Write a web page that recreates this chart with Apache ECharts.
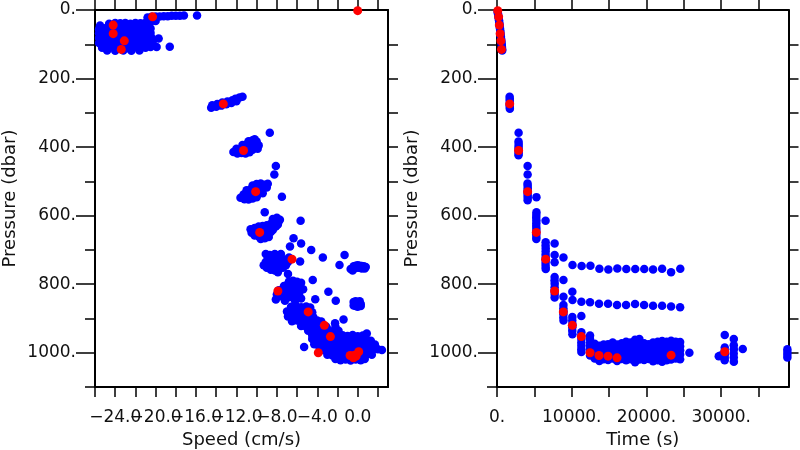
<!DOCTYPE html>
<html><head><meta charset="utf-8">
<script src="https://cdn.jsdelivr.net/npm/echarts@6/dist/echarts.min.js"></script>
<style>html,body{margin:0;padding:0;background:#fff}#c{width:800px;height:450px}</style>
</head><body><div id="c"></div>
<script>
// ---------- tick / label values ----------
const pressureMajor = [0, 200, 400, 600, 800, 1000];
const pressureMinor = [100, 300, 500, 700, 900, 1100];
const pressureAll = [100, 200, 300, 400, 500, 600, 700, 800, 900, 1000];
const speedTicks = [-26, -24, -22, -20, -18, -16, -14, -12, -10, -8, -6, -4, -2, 0, 2];
const speedLabelsA = [-24, -16, -8, 0];
const speedLabelsB = [-20, -12, -4];
const timeTicks = [0, 5000, 10000, 15000, 20000, 25000, 30000, 35000];
const timeLabels = [0, 10000, 20000, 30000];

// ---------- red (highlighted) samples ----------
const redPressure = [2, 20, 44, 69, 90, 115, 274, 410, 530, 649, 727, 820, 881, 920, 953, 1000, 1008, 1010, 1015, 1007, 997];
const redSpeed = [0.0, -20.3, -24.2, -24.2, -23.1, -23.4, -13.3, -11.3, -10.1, -9.7, -6.5, -7.9, -4.9, -3.3, -2.7, -3.9, -0.75, -0.16, -0.42, -0.3, 0.1];
const redTime = [100, 215, 310, 420, 520, 600, 1700, 2890, 4100, 5260, 6510, 7710, 8875, 10080, 11285, 12450, 13650, 14860, 16060, 23290, 30470];

// ---------- blue samples: speed vs pressure ----------
const speedSurface = [
 [-20.8,22],[-20.4,20],[-20.0,19],[-19.6,19],[-19.2,18],[-18.8,18],[-18.4,17],[-18.0,17],[-17.6,17],[-17.2,16],[-15.9,16],
 [-25.5,45],[-24.6,40],[-24.0,38],[-23.5,39],[-23.0,38],[-22.5,40],[-22.0,38],[-21.5,39],[-21.0,37],[-20.5,35],[-20.0,32],
 [-25.6,56],[-25.1,53],[-24.6,54],[-24.0,52],[-23.5,55],[-23.0,53],[-22.5,54],[-22.0,52],[-21.5,55],[-21.0,53],[-20.5,54],
 [-25.6,68],[-25.2,70],[-24.6,67],[-24.1,69],[-23.5,68],[-23.0,70],[-22.4,67],[-21.9,69],[-21.4,68],[-20.9,70],[-20.5,67],
 [-25.6,82],[-25.2,84],[-24.7,81],[-24.1,83],[-23.6,82],[-23.0,84],[-22.5,81],[-22.0,83],[-21.4,82],[-20.9,84],[-20.4,81],[-19.7,83],
 [-25.6,96],[-25.1,98],[-24.6,95],[-24.0,97],[-23.5,96],[-22.9,98],[-22.4,95],[-21.9,97],[-21.3,96],[-20.8,98],[-20.3,95],
 [-25.3,110],[-24.8,112],[-24.2,109],[-23.7,111],[-23.1,110],[-22.6,112],[-22.0,109],[-21.5,111],[-21.0,110],[-20.5,108],[-19.9,108],[-18.6,107],
 [-24.8,118],[-24.0,119],[-23.2,118],[-22.4,119],[-21.6,118]
];
const speedUpper = [
 [-14.5,285],[-14.4,278],[-14.0,282],[-13.9,274],[-13.5,279],[-13.4,270],[-13.0,275],[-12.9,267],[-12.5,271],[-12.4,263],[-12.0,266],[-12.1,259],[-11.7,255],[-11.4,253],
 [-12.3,414],[-11.9,419],[-11.5,417],[-11.1,419],[-10.7,415],[-12.0,405],[-11.6,407],[-11.2,402],[-10.8,405],[-10.4,408],[-11.4,394],[-11.0,392],[-10.6,394],[-10.2,397],[-10.8,383],[-10.4,380],[-10.0,384],[-9.8,395],[-10.2,377],[-9.9,405],[-8.7,358],
 [-11.6,548],[-11.2,552],[-10.8,553],[-10.4,550],[-10.0,546],[-11.3,538],[-10.9,540],[-10.5,536],[-10.1,533],[-9.7,530],[-11.0,526],[-10.6,524],[-10.2,522],[-9.8,519],[-9.4,522],[-10.4,512],[-10.0,508],[-9.6,506],[-9.2,510],[-9.0,518],[-8.9,507],[-9.4,535],
 [-8.1,455],[-8.25,480],[-7.5,545],[-9.2,590]
];
const speedMid = [
 [-10.6,640],[-10.2,636],[-9.8,632],[-9.4,630],[-9.0,628],[-8.6,624],[-8.2,620],[-7.8,616],[-8.4,610],[-8.0,606],[-7.7,612],[-10.5,650],[-10.1,648],[-9.3,645],[-8.9,640],[-8.5,636],[-8.1,632],[-7.9,626],[-10.2,658],[-9.8,660],[-9.4,655],[-9.0,652],[-8.6,648],[-9.6,668],[-9.2,666],[-8.8,662],[-10.0,642],[-8.4,642],
 [-5.65,615],[-6.35,666],[-6.7,690],[-5.6,681],[-4.6,700],[-3.45,722],[-1.3,715],[-1.8,744],[-5.7,734],
 [-9.3,745],[-9.0,752],[-8.6,758],[-8.2,760],[-7.8,756],[-7.4,752],[-9.1,735],[-8.7,740],[-8.3,745],[-7.9,742],[-7.5,738],[-7.1,745],[-8.9,722],[-8.5,726],[-8.1,728],[-7.7,724],[-7.3,728],[-8.7,715],[-8.2,712],[-7.6,712],[-9.1,712],[-6.9,770],[-7.9,765],[-6.9,735],[-6.8,722],
 [-0.7,756],[-0.4,748],[-0.2,746],[0.0,745],[0.2,746],[0.4,747],[0.6,748],[0.7,754],[-0.5,760],[-0.2,753],[0.1,752],[0.4,754],[0.8,750],
 [-6.8,792],[-6.4,790],[-6.0,793],[-5.6,796],[-7.3,805],[-6.9,800],[-6.5,803],[-6.1,806],[-5.7,810],[-5.4,815],[-7.8,818],[-7.4,815],[-7.0,820],[-6.6,822],[-6.2,825],[-5.8,828],[-8.0,830],[-7.6,835],[-7.2,838],[-6.8,838],[-6.4,836],[-6.0,840],[-5.6,842],[-8.1,845],[-7.2,848],[-6.2,848],
 [-4.45,788],[-2.9,822],[-2.17,848],[-4.2,844],
 [-0.4,852],[-0.2,850],[0.0,853],[0.2,855],[0.3,858],[-0.3,858],[-0.1,860],[0.1,862],[0.3,864],[-0.2,864],[0.0,866],[0.2,850],[-0.4,862]
];
const speedDeep = [
 [-6.6,866],[-6.1,864],[-5.6,867],[-5.1,865],[-4.7,868],
 [-7.0,880],[-6.5,882],[-6.0,879],[-5.5,881],[-5.0,878],[-4.5,882],
 [-6.9,894],[-6.4,896],[-5.9,893],[-5.4,895],[-4.9,892],[-4.4,896],
 [-6.5,908],[-6.0,906],[-5.5,909],[-5.0,907],[-4.5,910],[-4.0,906],[-3.6,909],
 [-5.6,922],[-5.1,924],[-4.6,921],[-4.1,923],[-3.6,920],[-3.1,924],
 [-4.9,936],[-4.4,938],[-3.9,935],[-3.4,937],[-2.9,934],[-2.4,938],[-1.9,936],
 [-4.5,950],[-4.0,952],[-3.5,949],[-3.0,951],[-2.5,948],[-2.0,952],[-1.5,949],[-1.0,951],[-0.5,948],[0.0,952],[0.5,950],[0.9,944],
 [-4.5,960],[-4.2,964],[-3.7,966],[-3.2,963],[-2.7,965],[-2.2,962],[-1.7,966],[-1.2,963],[-0.7,965],[-0.2,962],[0.3,966],[0.8,963],[1.3,965],
 [-4.3,975],[-3.9,978],[-3.4,980],[-2.9,977],[-2.4,979],[-1.9,976],[-1.4,980],[-0.9,977],[-0.4,979],[0.1,976],[0.6,980],[1.1,977],[1.7,976],
 [-3.5,992],[-3.0,994],[-2.5,991],[-2.0,993],[-1.5,990],[-1.0,994],[-0.5,991],[0.0,993],[0.5,990],[1.0,994],[1.5,991],[2.0,990],[2.4,992],
 [-3.0,1006],[-2.5,1008],[-2.0,1005],[-1.5,1007],[-1.0,1004],[-0.5,1008],[0.0,1005],[0.5,1007],[1.0,1004],[1.4,1006],
 [-2.2,1018],[-1.7,1022],[-1.2,1020],[-0.7,1023],[-0.2,1020],[0.3,1022],[0.7,1018],
 [-5.3,983],[-1.4,903],[-2.24,914],[-2.2,925]
];

// ---------- blue samples: time vs pressure ----------
const timeSurface = [
 [80,6],[140,12],[190,18],[230,24],[270,30],[300,36],[340,42],[370,48],[400,54],[430,60],[460,66],[490,72],[520,78],[550,84],[580,90],[610,96],[640,102],[660,108],[690,114],[700,118],
 [1690,253],[1710,259],[1700,265],[1720,271],[1700,277],[1710,283],[1720,288],
 [2890,358],[2880,384],[2900,391],[2890,398],[2880,405],[2900,412],[2890,419],[2880,424],
 [4100,455],[4100,480],[4090,506],[4100,513],[4110,520],[4100,527],[4090,534],[4100,541],[4110,548],[4100,555],
 [5280,546],[5280,590]
];
const timeMid = [
 [5260,598],[5250,606],[5270,614],[5260,622],[5250,630],[5270,638],[5260,646],[5250,654],[5270,662],[5260,668],
 [6500,615],
 [6510,678],[6500,687],[6520,696],[6510,705],[6500,714],[6520,723],[6510,732],[6500,741],[6510,750],[6520,756],
 [7710,681],[7710,715],[7710,736],
 [7710,779],[7700,789],[7720,799],[7710,809],[7700,819],[7720,829],[7710,839],
 [8890,722],[8890,788],[8890,837],
 [8890,861],[8880,870],[8900,879],[8890,888],[8880,897],[8900,906],
 [10080,822],
 [10080,896],[10070,906],[10090,916],[10080,926],[10070,936],[10090,946],
 [11285,893],
 [11285,940],[11280,950],[11290,960],[11280,970],[11290,980],[11280,990],[11290,998],
 [12450,950],[12440,960],[12460,970],[12450,980],[12440,990],[12460,1000],[12450,1008],
 [10100,744],[11320,747],[12500,746],[13700,755],[14900,757],[16100,754],[17300,756],[18500,756],[19700,756],[20880,757],[22090,755],[23290,765],[24520,755],
 [10100,846],[11290,851],[12450,853],[13650,857],[14860,857],[16060,861],[17270,861],[18470,858],[19680,861],[20880,863],[22090,863],[23290,865],[24500,867]
];
const timeDeep = [
 [13070,974],[13070,985],[13070,996],[13070,1007],[13070,1017],
 [13700,980],[13700,991],[13700,1002],[13700,1013],[13700,1024],
 [14270,976],[14270,987],[14270,998],[14270,1009],[14270,1019],
 [14860,975],[14860,986],[14860,998],[14860,1010],[14860,1021],
 [15480,970],[15480,982],[15480,994],[15480,1006],[15480,1017],
 [16060,976],[16060,988],[16060,1000],[16060,1012],[16060,1024],
 [16690,972],[16690,984],[16690,996],[16690,1007],[16690,1018],
 [17270,968],[17270,980],[17270,992],[17270,1004],[17270,1016],[17270,1022],
 [17850,970],[17850,982],[17850,994],[17850,1006],[17850,1019],
 [18470,962],[18470,974],[18470,986],[18470,998],[18470,1010],[18470,1022],[18470,1028],
 [19050,960],[19050,972],[19050,984],[19050,996],[19050,1008],[19050,1020],
 [19680,972],[19680,984],[19680,996],[19680,1008],[19680,1021],
 [20300,975],[20300,986],[20300,997],[20300,1008],[20300,1018],
 [20880,970],[20880,982],[20880,994],[20880,1006],[20880,1018],[20880,1025],
 [21500,968],[21500,980],[21500,992],[21500,1004],[21500,1016],[21500,1022],
 [22090,966],[22090,978],[22090,990],[22090,1002],[22090,1014],[22090,1026],
 [22700,968],[22700,980],[22700,992],[22700,1004],[22700,1016],[22700,1022],
 [23290,965],[23290,977],[23290,989],[23290,1001],[23290,1013],[23290,1020],
 [23910,968],[23910,980],[23910,992],[23910,1004],[23910,1017],
 [24500,969],[24500,981],[24500,993],[24500,1005],[24500,1019],
 [25740,1000],
 [30470,948],[30470,985],[30460,995],[30480,1005],[30470,1015],[30460,1022],[29670,1010],[29900,1008],
 [31680,960],[31680,978],[31690,990],[31670,1002],[31680,1014],[31690,1026],[32880,989],
 [38850,990],[38850,998],[38850,1006],[38850,1014]
];

// ---------- build chart ----------
const FONT = 'DejaVu Sans';
const BLACK = '#000';
const zip = (a, b) => a.map((v, i) => [v, b[i]]);
const minus = v => v === 0 ? '0.0' : (v < 0 ? '\u2212' : '') + Math.abs(v).toFixed(1);
const labelStyle = { margin: 22, hideOverlap: false, showMinLabel: true, showMaxLabel: true,
  fontFamily: FONT, fontSize: 17, color: '#111' };

function xAxesFor(grid, min, max, ticks, labelSets, fmt, name) {
  const line = { show: true, onZero: false, lineStyle: { color: BLACK, width: 2 } };
  const axes = [
    { gridIndex: grid, type: 'value', min, max, position: 'bottom',
      name, nameLocation: 'middle', nameGap: 42,
      nameTextStyle: { fontFamily: FONT, fontSize: 18, color: '#111' },
      axisLine: line,
      axisTick: { show: true, inside: false, length: 10, customValues: ticks, lineStyle: { color: BLACK, width: 1.5 } },
      axisLabel: Object.assign({ show: true, customValues: labelSets[0], formatter: fmt }, labelStyle),
      splitLine: { show: false } },
    { gridIndex: grid, type: 'value', min, max, position: 'top',
      axisLine: line,
      axisTick: { show: true, inside: false, length: 10, customValues: ticks, lineStyle: { color: BLACK, width: 1.5 } },
      axisLabel: { show: false }, splitLine: { show: false } }
  ];
  for (let k = 1; k < labelSets.length; k++) {
    axes.push({ gridIndex: grid, type: 'value', min, max, position: 'bottom',
      axisLine: { show: false, onZero: false }, axisTick: { show: false },
      axisLabel: Object.assign({ show: true, customValues: labelSets[k], formatter: fmt }, labelStyle),
      splitLine: { show: false } });
  }
  return axes;
}
function yTriple(grid) {
  const base = { gridIndex: grid, type: 'value', inverse: true, min: 0, max: 1100, splitLine: { show: false } };
  const line = { show: true, onZero: false, lineStyle: { color: BLACK, width: 2 } };
  return [
    Object.assign({}, base, { position: 'left',
      name: 'Pressure (dbar)', nameLocation: 'middle', nameGap: 76, nameRotate: 90,
      nameTextStyle: { fontFamily: FONT, fontSize: 18, color: '#111' },
      axisLine: line,
      axisTick: { show: true, inside: false, length: 19, customValues: pressureMajor, lineStyle: { color: BLACK, width: 1.5 } },
      axisLabel: Object.assign({ show: true, customValues: pressureMajor, formatter: v => v + '.' }, labelStyle, { margin: 19 }) }),
    Object.assign({}, base, { position: 'left',
      axisLine: { show: false, onZero: false },
      axisTick: { show: true, inside: false, length: 10, customValues: pressureMinor, lineStyle: { color: BLACK, width: 1.5 } },
      axisLabel: { show: false } }),
    Object.assign({}, base, { position: 'right',
      axisLine: line,
      axisTick: { show: true, inside: false, length: 10, customValues: pressureAll, lineStyle: { color: BLACK, width: 1.5 } },
      axisLabel: { show: false } })
  ];
}

// x axes: 0 = speed bottom, 1 = speed top, 2 = speed extra labels, 3 = time bottom, 4 = time top
const xAxes = [].concat(
  xAxesFor(0, -26, 3, speedTicks, [speedLabelsA, speedLabelsB], minus, 'Speed (cm/s)'),
  xAxesFor(1, 0, 39000, timeTicks, [timeLabels], v => v + '.', 'Time (s)')
);
const yAxes = [].concat(yTriple(0), yTriple(1));

const blueStyle = { color: '#0000ff', opacity: 1 };
const redStyle = { color: '#ff0000', opacity: 1 };

const option = {
  animation: false,
  backgroundColor: '#fff',
  grid: [
    { left: 95, top: 10, width: 293, height: 377, outerBoundsMode: 'none', containLabel: false },
    { left: 497, top: 10, width: 291.5, height: 377, outerBoundsMode: 'none', containLabel: false }
  ],
  xAxis: xAxes,
  yAxis: yAxes,
  series: [
    { type: 'scatter', xAxisIndex: 0, yAxisIndex: 0, symbolSize: 8.5, itemStyle: blueStyle,
      data: [].concat(speedSurface, speedUpper, speedMid, speedDeep) },
    { type: 'scatter', xAxisIndex: 0, yAxisIndex: 0, symbolSize: 9, itemStyle: redStyle,
      data: zip(redSpeed, redPressure) },
    { type: 'scatter', xAxisIndex: 3, yAxisIndex: 3, symbolSize: 8.5, itemStyle: blueStyle,
      data: [].concat(timeSurface, timeMid, timeDeep) },
    { type: 'scatter', xAxisIndex: 3, yAxisIndex: 3, symbolSize: 9, itemStyle: redStyle,
      data: zip(redTime, redPressure) }
  ]
};
const chart = echarts.init(document.getElementById('c'), null, { renderer: 'canvas' });
chart.setOption(option);
</script>
</body></html>
